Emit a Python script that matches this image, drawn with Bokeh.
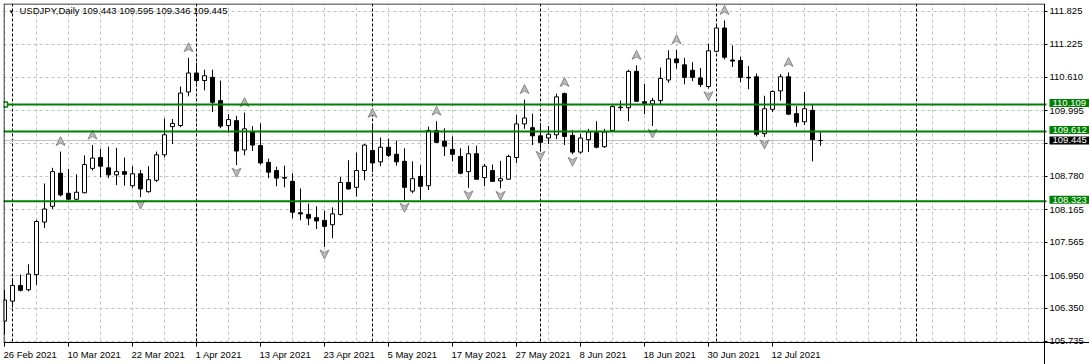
import numpy as np
from bokeh.plotting import figure
from bokeh.models import (Range1d, FixedTicker, Span, Label, LabelSet,
                          ColumnDataSource, PrintfTickFormatter)
from bokeh.core.properties import value
from bokeh.embed import file_html
from bokeh.resources import INLINE

symbol = "USDJPY,Daily"

opens = [106.11, 106.48, 106.77, 106.69, 106.97, 107.94, 108.23, 108.84, 108.47, 108.36,
         108.48, 108.93, 109.13, 108.94, 108.81, 108.87, 108.61, 108.83, 108.50, 108.71,
         109.18, 109.70, 109.72, 110.34, 110.69, 110.55, 110.61, 110.18, 109.72, 109.81,
         109.27, 109.61, 109.35, 109.04, 108.89, 108.76, 108.69, 108.11, 108.08, 108.02,
         107.97, 107.89, 108.08, 108.67, 108.58, 108.89, 109.26, 109.05, 109.32, 109.19,
         109.06, 108.51, 108.78, 108.61, 109.63, 109.43, 109.28, 109.15, 108.87, 109.20,
         108.76, 108.89, 108.70, 108.73, 109.13, 109.75, 109.68, 109.53, 109.49, 109.55,
         110.31, 109.54, 109.23, 109.46, 109.59, 109.33, 109.63, 110.06, 110.05, 110.72,
         110.16, 110.12, 110.18, 110.56, 110.95, 110.84, 110.74, 110.60, 110.44, 111.09,
         111.52, 110.93, 110.92, 110.61, 110.62, 109.57, 110.02, 110.36, 110.62, 109.94,
         109.79, 110.00, 109.443]
highs = [106.69, 106.90, 106.97, 107.16, 107.98, 108.65, 108.94, 109.24, 108.92, 108.82,
         109.17, 109.36, 109.29, 109.33, 109.31, 109.13, 108.97, 108.90, 108.97, 109.24,
         109.85, 109.84, 110.44, 110.97, 110.88, 110.75, 110.75, 110.55, 109.93, 109.90,
         109.96, 109.71, 109.76, 109.11, 108.96, 108.98, 108.84, 108.56, 108.28, 108.23,
         108.15, 108.21, 108.77, 109.08, 109.22, 109.38, 109.76, 109.50, 109.48, 109.44,
         109.30, 109.06, 108.99, 109.70, 109.80, 109.67, 109.52, 109.30, 109.35, 109.35,
         109.01, 109.00, 109.07, 109.18, 109.92, 110.20, 109.94, 109.77, 109.71, 110.31,
         110.33, 109.63, 109.57, 109.66, 109.80, 109.66, 110.10, 110.18, 110.75, 110.83,
         110.49, 110.23, 110.79, 111.11, 111.12, 110.97, 110.89, 110.78, 111.23, 111.60,
         111.66, 111.20, 110.99, 110.82, 110.68, 110.27, 110.37, 110.67, 110.70, 110.08,
         110.34, 110.11, 109.595]
lows = [105.86, 106.36, 106.66, 106.66, 106.78, 107.83, 108.18, 108.41, 108.35, 108.34,
        108.47, 108.89, 108.77, 108.75, 108.62, 108.61, 108.57, 108.40, 108.48, 108.68,
        109.13, 109.38, 109.69, 110.26, 110.50, 110.37, 109.97, 109.67, 109.59, 108.99,
        109.17, 109.25, 109.00, 108.75, 108.60, 108.58, 108.01, 107.97, 107.88, 107.81,
        107.48, 107.64, 108.06, 108.54, 108.41, 108.71, 108.86, 108.97, 109.14, 108.98,
        108.34, 108.47, 108.35, 108.53, 109.40, 109.16, 109.06, 108.82, 108.57, 108.73,
        108.60, 108.69, 108.56, 108.72, 109.03, 109.66, 109.36, 109.30, 109.38, 109.47,
        109.36, 109.19, 109.20, 109.23, 109.30, 109.31, 109.61, 109.99, 109.80, 110.16,
        109.93, 109.71, 110.10, 110.51, 110.77, 110.48, 110.54, 110.43, 110.40, 111.07,
        110.94, 110.80, 110.52, 110.39, 109.52, 109.51, 109.97, 110.18, 109.92, 109.70,
        109.73, 109.06, 109.346]
closes = [106.50, 106.77, 106.68, 106.98, 107.95, 108.18, 108.87, 108.44, 108.36, 108.49,
          109.00, 109.12, 108.97, 108.81, 108.87, 108.82, 108.83, 108.55, 108.72, 109.18,
          109.55, 109.76, 110.32, 110.69, 110.55, 110.64, 110.15, 109.71, 109.83, 109.25,
          109.66, 109.36, 109.03, 108.86, 108.75, 108.75, 108.12, 108.09, 108.01, 107.96,
          107.86, 108.09, 108.67, 108.55, 108.89, 109.36, 109.03, 109.32, 109.17, 109.05,
          108.58, 108.74, 108.60, 109.63, 109.41, 109.34, 109.19, 108.84, 109.20, 108.73,
          108.97, 108.69, 108.74, 109.15, 109.75, 109.86, 109.53, 109.41, 109.56, 110.25,
          109.52, 109.23, 109.49, 109.60, 109.32, 109.60, 110.07, 110.05, 110.72, 110.17,
          110.13, 110.18, 110.59, 110.95, 110.88, 110.61, 110.61, 110.48, 111.10, 111.52,
          110.98, 110.91, 110.61, 110.60, 109.56, 110.03, 110.35, 110.62, 109.93, 109.78,
          110.03, 109.46, 109.445]

date_label_bars = [0, 8, 16, 24, 32, 40, 48, 56, 64, 72, 80, 88, 96]
date_labels = ["26 Feb 2021", "10 Mar 2021", "22 Mar 2021", "1 Apr 2021", "13 Apr 2021",
               "23 Apr 2021", "5 May 2021", "17 May 2021", "27 May 2021", "8 Jun 2021",
               "18 Jun 2021", "30 Jun 2021", "12 Jul 2021"]
month_start_bars = [1, 24, 46, 67, 89, 114]
price_ticks = [111.825, 111.225, 110.610, 109.995, 109.380, 108.780, 108.165,
               107.565, 106.950, 106.350, 105.735]
level_prices = [110.109, 109.612, 108.323]
bid_price = 109.445
fractal_up_bars = [7, 11, 23, 30, 46, 54, 65, 70, 79, 84, 90, 98]
fractal_down_bars = [17, 29, 40, 50, 58, 62, 67, 71, 81, 88, 95]

FONT = "Liberation Sans"
FS = "9.5px"

n = len(opens)
idx = np.arange(n)
o = np.array(opens); h = np.array(highs); l = np.array(lows); c = np.array(closes)

# ---- geometry (layout only): 8 px per bar, frame covers the canvas, axes at fixed locations
W, H = 1089, 364
BPX = 1 / 8.0                 # bars per pixel
PPX = 0.018455                # price per pixel
X_START = -0.125              # canvas px 3
X_END = X_START + (W - 3) * BPX
X_RF = 130.0                  # right border of the chart area (px 1044)
Y_TOP = 111.9726              # canvas px 3
Y_BF = Y_TOP - 339 * PPX      # bottom border of the chart area (px 342)
Y_START = Y_TOP - (H - 3) * PPX
FRAME_H = H - 3

p = figure(width=W, height=H, output_backend="svg", toolbar_location=None,
           x_range=Range1d(X_START, X_END), y_range=Range1d(Y_START, Y_TOP),
           y_axis_location="right",
           min_border_left=3, min_border_right=0, min_border_top=3, min_border_bottom=0)
p.background_fill_color = "white"
p.border_fill_color = "white"
p.outline_line_color = None

# price axis (right)
p.yaxis.fixed_location = X_RF
p.yaxis.ticker = FixedTicker(ticks=price_ticks)
p.yaxis.formatter = PrintfTickFormatter(format="%.3f")
p.yaxis.major_label_overrides = {109.380: ""}
p.yaxis.major_tick_in = 0
p.yaxis.major_tick_out = 3
p.yaxis.minor_tick_line_color = None
p.yaxis.major_label_standoff = 2
p.yaxis.major_label_text_font = FONT
p.yaxis.major_label_text_font_size = FS
p.yaxis.major_label_text_color = "black"
p.yaxis.axis_line_color = "black"

# time axis (bottom)
p.xaxis.fixed_location = Y_BF
p.xaxis.ticker = FixedTicker(ticks=date_label_bars)
p.xaxis.major_label_overrides = {b: "" for b in date_label_bars}
p.xaxis.major_tick_in = 0
p.xaxis.major_tick_out = 4
p.xaxis.minor_tick_line_color = None
p.xaxis.axis_line_color = "black"

# grid
p.ygrid.ticker = FixedTicker(ticks=price_ticks)
p.xgrid.ticker = FixedTicker(ticks=list(range(0, 131, 4)))
for g in (p.xgrid, p.ygrid):
    g.grid_line_color = "#c0c0c0"
    g.grid_line_dash = "3 3"
    g.grid_line_width = 1

# period separators
for b in month_start_bars:
    p.add_layout(Span(location=b, dimension="height", line_color="black",
                      line_dash="3 2", line_width=1, level="underlay"))

# white margins that hold the scales
p.quad(left=[X_RF, X_START], right=[X_END, X_RF], bottom=[Y_START, Y_START], top=[Y_TOP, Y_BF],
       fill_color="white", line_color=None)

# bid line
p.segment(x0=[X_START], x1=[X_RF], y0=[bid_price], y1=[bid_price], line_color="#c0c0c0", line_width=1)

# candles
p.segment(x0=idx, y0=l, x1=idx, y1=h, line_color="black", line_width=1)
bull = c >= o
src_bull = ColumnDataSource(dict(x=idx[bull], top=np.maximum(o, c)[bull], bottom=np.minimum(o, c)[bull]))
src_bear = ColumnDataSource(dict(x=idx[~bull], top=np.maximum(o, c)[~bull], bottom=np.minimum(o, c)[~bull]))
p.vbar(x="x", top="top", bottom="bottom", width=0.5, source=src_bull,
       fill_color="white", line_color="black", line_width=1)
p.vbar(x="x", top="top", bottom="bottom", width=0.5, source=src_bear,
       fill_color="black", line_color="black", line_width=1)

# fractal arrows (arrowheads built around each bar's high / low)
def arrow(xc, yc, up):
    s = 1 if up else -1
    dx = np.array([0, 4.5, 0, -4.5]) * BPX
    dy = np.array([5, -4, -1.5, -4]) * PPX * s
    return list(xc + dx), list(yc + dy)

fu = np.array(fractal_up_bars); fd = np.array(fractal_down_bars)
xs, ys = [], []
for b in fu:
    ax, ay = arrow(b, h[b] + 10 * PPX, True); xs.append(ax); ys.append(ay)
for b in fd:
    ax, ay = arrow(b, l[b] - 7 * PPX, False); xs.append(ax); ys.append(ay)
p.patches(xs=xs, ys=ys, fill_color="#b9b9b9", line_color="#8a8a8a", line_width=1)

# horizontal levels
for lv in level_prices:
    p.segment(x0=[X_START], x1=[X_RF + 2 * BPX], y0=[lv], y1=[lv], line_color="#008000", line_width=2)
p.scatter(x=[X_START + 1.5 * BPX], y=[level_prices[0]], marker="square", size=5,
          fill_color="white", line_color="#008000", line_width=1.5)

# chart area border
p.quad(left=[X_START + 0.5 * BPX], right=[X_RF], bottom=[Y_BF], top=[Y_TOP - 0.5 * PPX],
       fill_color=None, line_color="black", line_width=1)

# price boxes on the price scale
box_x = X_RF + 5 * BPX
pad = dict(left=3, right=4, top=1, bottom=1)
for lv in level_prices:
    p.add_layout(Label(x=box_x, y=lv + 1.5 * PPX, text=f"{lv:.3f}",
                       text_font=FONT, text_font_size=FS, text_color="white",
                       text_baseline="middle", text_align="left",
                       background_fill_color="#008000", padding=pad))
p.add_layout(Label(x=box_x, y=bid_price, text=f"{bid_price:.3f}",
                   text_font=FONT, text_font_size=FS, text_color="white",
                   text_baseline="middle", text_align="left",
                   background_fill_color="black", padding=pad))

# date labels
dsrc = ColumnDataSource(dict(x=date_label_bars, text=date_labels,
                             y=[Y_BF - 6 * PPX] * len(date_label_bars)))
p.add_layout(LabelSet(x="x", y="y", text="text", source=dsrc,
                      text_font=value(FONT), text_font_size=value(FS), text_color="black",
                      text_align="left", text_baseline="top", x_offset=-1))

# header
header = f"{symbol}  {opens[-1]:.3f} {highs[-1]:.3f} {lows[-1]:.3f} {closes[-1]:.3f}"
p.add_layout(Label(x=5, y=FRAME_H - 8, x_units="screen", y_units="screen", text="\u25bc",
                   text_font=FONT, text_font_size="6px", text_color="black",
                   text_baseline="middle"))
p.add_layout(Label(x=16, y=FRAME_H - 7, x_units="screen", y_units="screen", text=header,
                   text_font=FONT, text_font_size=FS, text_color="black",
                   text_baseline="middle"))

open("out.html", "w").write(file_html(p, INLINE))
